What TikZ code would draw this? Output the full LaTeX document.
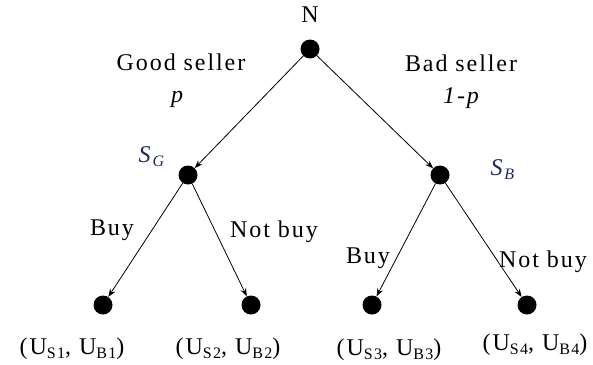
\documentclass[tikz,border=0pt]{standalone}
\usepackage{fontspec}
\setmainfont[LetterSpace=8]{Liberation Serif}
\usepackage{xcolor}
\usepackage{tikz}
\usetikzlibrary{arrows.meta}

\definecolor{playerblue}{RGB}{30,40,95}
\newcommand{\lowsub}[1]{\raisebox{-0.35ex}{\fontsize{16}{18}\selectfont #1}}

\begin{document}
\begin{tikzpicture}[
  x=1pt, y=-1pt,
  dot/.style={circle, fill=black, inner sep=0pt, minimum size=19pt},
  txt/.style={font=\fontsize{24}{28}\selectfont, inner sep=0pt},
  plyr/.style={txt, text=playerblue},
  arr/.style={-{Stealth[length=8pt, width=6pt]}, line width=0.8pt},
]
\useasboundingbox (0,0) rectangle (593,364);

% --- Decision nodes ---
\node[dot] (N)  at (310, 49) {};
\node[dot] (SG) at (188,175) {};
\node[dot] (SB) at (440,175) {};

% --- Terminal nodes ---
\node[dot] (T1) at (103,305) {};
\node[dot] (T2) at (251,305) {};
\node[dot] (T3) at (372,305) {};
\node[dot] (T4) at (527,305) {};

% --- Player labels ---
\node[txt]  (Nlab)  at (310, 15) {N};
\node[plyr] (SGlab) at (152,157) {\textit{S}\lowsub{\textit{G}}};
\node[plyr] (SBlab) at (503,170) {\textit{S}\lowsub{\textit{B}}};

% --- Move labels ---
\node[txt] (good)  at (181, 62) {Good seller};
\node[txt] (pg)    at (178, 99) {\textit{p}};
\node[txt] (bad)   at (461, 63) {Bad seller};
\node[txt] (pb)    at (462, 98) {\textit{1-p}};
\node[txt] (buyG)  at (112,230) {Buy};
\node[txt] (notG)  at (274,232) {Not buy};
\node[txt] (buyB)  at (368,258) {Buy};
\node[txt] (notB)  at (543,262) {Not buy};

% --- Payoffs ---
\node[txt] (U1) at ( 72,349) {(U\lowsub{S1}, U\lowsub{B1})};
\node[txt] (U2) at (228,349) {(U\lowsub{S2}, U\lowsub{B2})};
\node[txt] (U3) at (389,350) {(U\lowsub{S3}, U\lowsub{B3})};
\node[txt] (U4) at (535,345) {(U\lowsub{S4}, U\lowsub{B4})};

% --- Arrows ---
\draw[arr] (N)  -- (SG);
\draw[arr] (N)  -- (SB);
\draw[arr] (SG) -- (T1);
\draw[arr] (SG) -- (T2);
\draw[arr] (SB) -- (T3);
\draw[arr] (SB) -- (T4);
\end{tikzpicture}
\end{document}
